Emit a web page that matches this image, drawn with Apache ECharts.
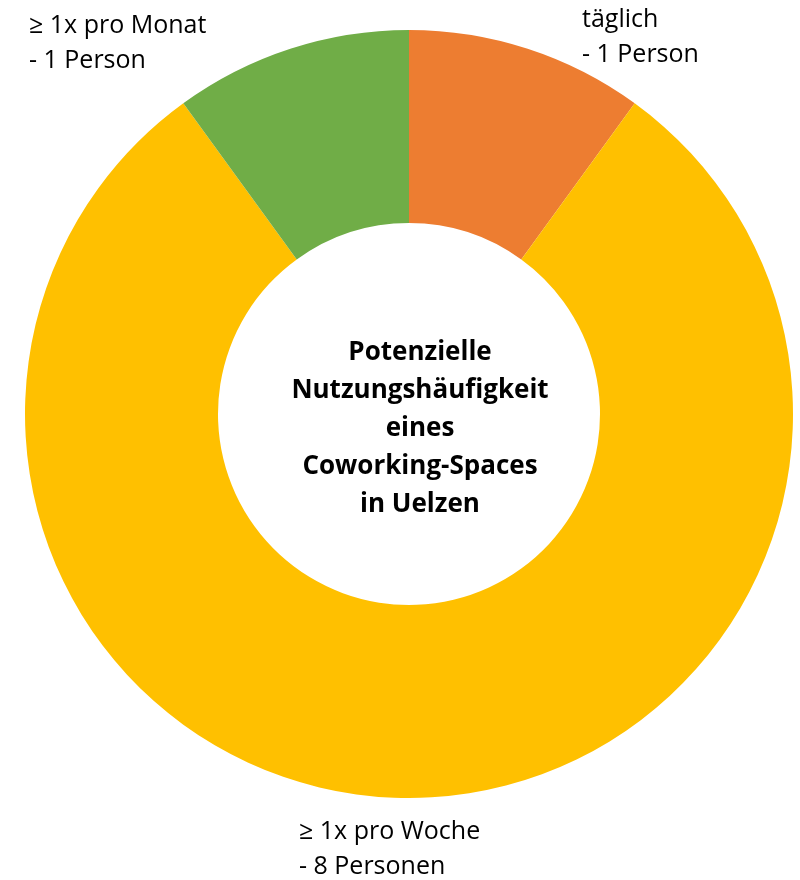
<!DOCTYPE html>
<html>
<head>
<meta charset="utf-8">
<script src="https://cdn.jsdelivr.net/npm/echarts@6/dist/echarts.min.js"></script>
<style>
  html, body { margin: 0; padding: 0; background: #fff; }
  #chart { width: 800px; height: 880px; }
</style>
</head>
<body>
<div id="chart"></div>
<script>
var categories = ['täglich', '≥ 1x pro Woche', '≥ 1x pro Monat'];
var personLabels = ['- 1 Person', '- 8 Personen', '- 1 Person'];
var values = [1, 8, 1];
var colors = ['#ED7D31', '#FFC000', '#70AD47'];

// where each slice label sits (top-left corner of the text block)
var labelSpots = [[582, 2], [299, 814], [29, 8]];

var chart = echarts.init(document.getElementById('chart'));

var pieData = categories.map(function (c, i) {
    return { name: c, value: values[i], itemStyle: { color: colors[i] } };
});

var option = {
    animation: false,
    title: {
        text: 'Potenzielle\nNutzungshäufigkeit\neines\nCoworking-Spaces\nin Uelzen',
        left: 415,
        top: 329,
        textAlign: 'center',
        textStyle: {
            fontFamily: 'Open Sans',
            fontWeight: 'bold',
            fontSize: 26,
            lineHeight: 38,
            color: '#000'
        }
    },
    series: [{
        type: 'pie',
        center: [409, 414],
        radius: [191, 384],
        startAngle: 90,
        clockwise: true,
        data: pieData,
        itemStyle: { borderWidth: 0 },
        label: {
            show: true,
            formatter: function (p) {
                return p.name + '\n' + personLabels[p.dataIndex];
            },
            fontFamily: 'Open Sans',
            fontSize: 25,
            lineHeight: 35,
            color: '#000',
            align: 'left'
        },
        labelLine: { show: false },
        labelLayout: function (params) {
            var s = labelSpots[params.dataIndex];
            return { x: s[0], y: s[1], align: 'left', verticalAlign: 'top' };
        },
        emphasis: { disabled: true }
    }]
};

chart.setOption(option);
</script>
</body>
</html>
